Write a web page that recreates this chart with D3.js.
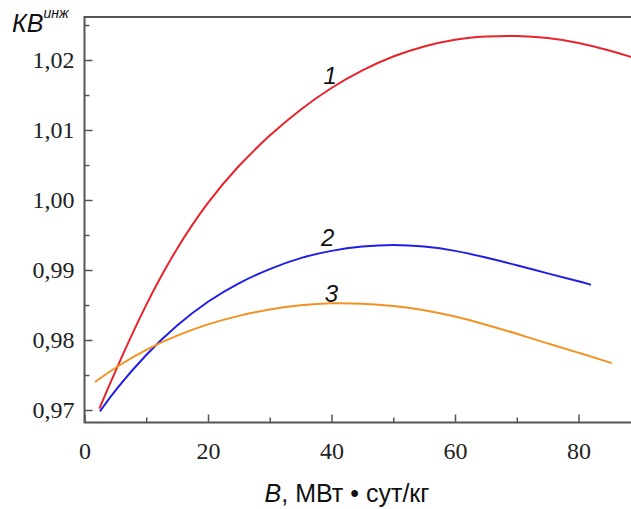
<!DOCTYPE html>
<html>
<head>
<meta charset="utf-8">
<script src="https://cdn.jsdelivr.net/npm/d3@7"></script>
<style>
  body { margin: 0; background: #fff; }
  .axis path, .axis line { stroke: #555; }
</style>
</head>
<body>
<svg id="chart"></svg>
<script>
// Кривая 1 (красная)
const burnup1 = [2.4, 5, 10, 15, 20, 25, 30, 35, 40, 45, 50, 55, 60, 65, 70, 75, 80, 85, 89];
const kv1 = [0.9702, 0.9756, 0.9853, 0.9933, 0.9998, 1.0050, 1.0093, 1.0130, 1.0161, 1.0186, 1.0206, 1.0220, 1.0230, 1.0234, 1.0235, 1.0232, 1.0225, 1.0214, 1.0203];

// Кривая 2 (синяя)
const burnup2 = [2.5, 5, 10, 15, 20, 25, 30, 35, 40, 45, 50, 55, 60, 65, 70, 75, 80, 82];
const kv2 = [0.9698, 0.9729, 0.9780, 0.9822, 0.9856, 0.9882, 0.9902, 0.9918, 0.9928, 0.9934, 0.99365, 0.9934, 0.9928, 0.9918, 0.9907, 0.9895, 0.9884, 0.9879];

// Кривая 3 (оранжевая)
const burnup3 = [1.7, 5, 10, 15, 20, 25, 30, 35, 40, 45, 50, 55, 60, 65, 70, 75, 80, 85.4];
const kv3 = [0.9740, 0.9761, 0.9787, 0.9807, 0.9823, 0.9835, 0.9844, 0.9850, 0.9853, 0.9852, 0.9849, 0.9843, 0.9834, 0.9822, 0.9809, 0.9795, 0.9782, 0.9767];

const xTicks = [0, 20, 40, 60, 80];
const yTicks = [0.97, 0.98, 0.99, 1.00, 1.01, 1.02];

const width = 631, height = 509;
const svg = d3.select("#chart").attr("width", width).attr("height", height);

const plotLeft = 84.5, plotTop = 17, plotBottom = 422.5;

const x = d3.scaleLinear().domain([0, 88.5]).range([plotLeft, width]);
const y = d3.scaleLinear().domain([0.97, 1.02]).range([410, 60]);

const fmt = d => d3.format(".2f")(d).replace(".", ",");
const serif = "'Liberation Serif', 'Times New Roman', 'DejaVu Serif', serif";

// Второстепенные деления
svg.append("g")
    .attr("class", "axis")
    .attr("transform", `translate(0,${plotBottom})`)
    .call(d3.axisBottom(x).tickValues([10, 30, 50, 70]).tickSize(-5).tickFormat(""))
    .call(g => g.select(".domain").remove())
    .selectAll("line").attr("stroke-width", 1.5);

svg.append("g")
    .attr("class", "axis")
    .attr("transform", `translate(${plotLeft},0)`)
    .call(d3.axisLeft(y).tickValues([0.975, 0.985, 0.995, 1.005, 1.015, 1.025]).tickSize(-5).tickFormat(""))
    .call(g => g.select(".domain").remove())
    .selectAll("line").attr("stroke-width", 1.5);

// Основные оси
const tickStyle = g => {
    g.attr("font-family", null).attr("font-size", null);
    g.select(".domain").remove();
    g.selectAll("line").attr("stroke-width", 1.5);
    g.selectAll("text")
        .style("font-family", serif)
        .style("font-size", "24px")
        .attr("fill", "#222");
};

svg.append("g")
    .attr("class", "axis")
    .attr("transform", `translate(0,${plotBottom})`)
    .call(d3.axisBottom(x).tickValues(xTicks).tickSize(-8).tickSizeOuter(0).tickPadding(19).tickFormat(d3.format("d")))
    .call(tickStyle);

svg.append("g")
    .attr("class", "axis")
    .attr("transform", `translate(${plotLeft},0)`)
    .call(d3.axisLeft(y).tickValues(yTicks).tickSize(-8).tickSizeOuter(0).tickPadding(10).tickFormat(fmt))
    .call(tickStyle);

// Рамка
svg.append("path")
    .attr("d", `M${width},${plotTop}H${plotLeft}V${plotBottom}H${width}`)
    .attr("fill", "none")
    .attr("stroke", "#555")
    .attr("stroke-width", 2);

// Кривые
const series = [
    {xs: burnup1, ys: kv1, color: "#e8232b"},
    {xs: burnup2, ys: kv2, color: "#1f1fe6"},
    {xs: burnup3, ys: kv3, color: "#f39222"}
];

const line = d3.line()
    .x(d => x(d[0]))
    .y(d => y(d[1]))
    .curve(d3.curveBasis);

svg.selectAll(".curve")
    .data(series)
    .enter()
    .append("path")
    .attr("class", "curve")
    .attr("fill", "none")
    .attr("stroke", d => d.color)
    .attr("stroke-width", 2)
    .attr("d", d => line(d.xs.map((v, i) => [v, d.ys[i]])));

// Номера кривых
const labels = [
    {text: "1", bx: 39.8, by: 1.0166},
    {text: "2", bx: 39.4, by: 0.99345},
    {text: "3", bx: 40.0, by: 0.98545}
];
svg.selectAll(".num")
    .data(labels)
    .enter()
    .append("text")
    .attr("class", "num")
    .attr("x", d => x(d.bx))
    .attr("y", d => y(d.by))
    .attr("text-anchor", "middle")
    .style("font-family", "'Liberation Sans', Arial, sans-serif")
    .style("font-style", "italic")
    .style("font-size", "24px")
    .attr("fill", "#111")
    .text(d => d.text);

// Подписи осей
const xTitle = svg.append("text")
    .attr("x", 347)
    .attr("y", 502)
    .attr("text-anchor", "middle")
    .style("font-family", "'Liberation Sans', Arial, sans-serif")
    .style("font-size", "25px")
    .attr("fill", "#111");
xTitle.append("tspan").style("font-style", "italic").text("B");
xTitle.append("tspan").text(", МВт • сут/кг");

const yTitle = svg.append("text")
    .attr("x", 12)
    .attr("y", 32)
    .style("font-family", "'Liberation Sans', Arial, sans-serif")
    .style("font-style", "italic")
    .attr("fill", "#111");
yTitle.append("tspan").style("font-size", "25px").text("КВ");
yTitle.append("tspan").style("font-size", "14px").attr("dy", -14).text("инж");
</script>
</body>
</html>
